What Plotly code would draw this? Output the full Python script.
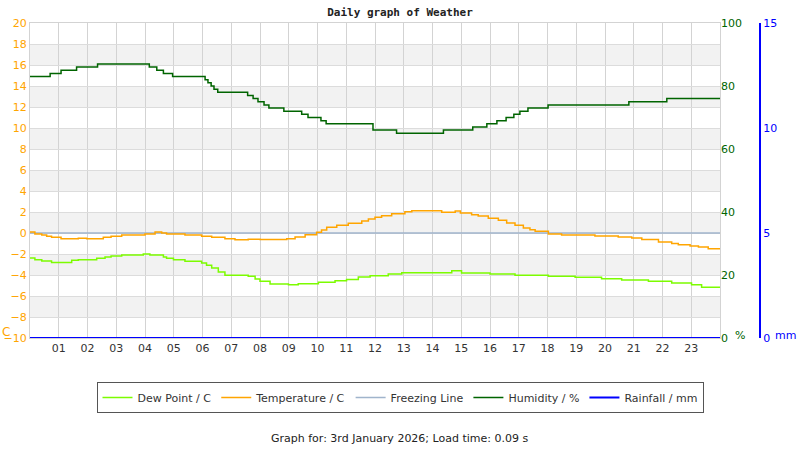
import plotly.graph_objects as go

# hours of the day (0-24) and readings, step-wise as logged
hum_hours = [0, 0.70, 1.08, 1.62, 2.35, 4.15, 4.41, 4.64, 4.96, 6.09, 6.19, 6.30, 6.40,
             6.53, 7.57, 7.76, 7.93, 8.14, 8.31, 8.83, 9.45, 9.67, 10.12, 10.30, 11.93,
             12.75, 14.38, 15.40, 15.89, 16.24, 16.56, 16.83, 17.04, 17.32, 18.02, 20.83,
             22.15, 24]
hum_vals = [83, 84, 85, 86, 87, 86, 85, 84, 83, 82, 81, 80, 79,
            78, 77, 76, 75, 74, 73, 72, 71, 70, 69, 68, 66,
            65, 66, 67, 68, 69, 70, 71, 72, 73, 74, 75,
            76, 76]

temp_hours = [0, 0.17, 0.41, 0.58, 0.75, 1.08, 1.68, 1.97, 2.55, 2.82, 3.19, 4.0, 4.35,
              4.58, 4.75, 5.39, 5.97, 6.32, 6.78, 7.13, 7.59, 8.0, 8.93, 9.22, 9.57,
              9.97, 10.14, 10.32, 10.67, 11.07, 11.54, 11.77, 12.0, 12.23, 12.58, 13.04,
              13.28, 14.32, 14.79, 14.97, 15.36, 15.59, 15.94, 16.29, 16.58, 16.87, 17.16,
              17.39, 17.57, 18.03, 18.49, 19.65, 20.46, 20.93, 21.28, 21.86, 22.32, 22.55,
              22.96, 23.25, 23.59, 24]
temp_vals = [0.1, -0.1, -0.2, -0.3, -0.4, -0.55, -0.5, -0.55, -0.4, -0.3, -0.2, -0.1, 0.1,
             0.0, -0.1, -0.2, -0.3, -0.4, -0.55, -0.65, -0.6, -0.63, -0.54, -0.38, -0.16,
             0.06, 0.29, 0.54, 0.73, 0.92, 1.14, 1.33, 1.49, 1.65, 1.84, 2.03,
             2.13, 1.97, 2.1, 1.9, 1.75, 1.62, 1.4, 1.21, 0.95, 0.73, 0.48,
             0.32, 0.16, -0.1, -0.19, -0.29, -0.38, -0.48, -0.63, -0.86, -1.0, -1.11,
             -1.24, -1.33, -1.49, -1.49]

dew_hours = [0, 0.17, 0.41, 0.75, 1.45, 1.68, 2.32, 2.61, 2.82, 3.19, 3.94, 4.17, 4.64,
             4.75, 4.99, 5.39, 5.97, 6.14, 6.32, 6.55, 6.78, 7.59, 7.83, 8.0, 8.35,
             8.99, 9.33, 10.03, 10.61, 11.01, 11.42, 11.83, 12.46, 12.93, 14.67, 15.01,
             16.0, 16.87, 18.03, 18.96, 19.88, 20.58, 21.51, 22.32, 23.01, 23.36, 24]
dew_vals = [-2.38, -2.54, -2.67, -2.8, -2.6, -2.54, -2.4, -2.29, -2.19, -2.1, -2.0, -2.1, -2.29,
            -2.4, -2.54, -2.7, -2.86, -3.08, -3.33, -3.71, -4.03, -4.13, -4.38, -4.6, -4.86,
            -4.92, -4.83, -4.7, -4.54, -4.44, -4.19, -4.06, -3.9, -3.78, -3.59, -3.8,
            -3.9, -4.03, -4.13, -4.22, -4.35, -4.48, -4.6, -4.76, -4.92, -5.17, -5.17]

rain_hours = [0, 24]
rain_vals = [0, 0]

freeze_hours = [0, 24]
freeze_vals = [0, 0]

hour_ticks = list(range(1, 24))
hour_labels = [f"{h:02d}" for h in hour_ticks]

ORANGE = "#FFA500"
GREEN = "#006400"
BLUE = "#0000FF"
FONT = "DejaVu Sans"

# plot area in pixels: x 30..720, y 23..338; paper spans x 30..765
PW, PH = 735, 315


def px_x(x):
    return (x - 30) / PW


def px_y(y):
    return (338 - y) / PH


fig = go.Figure()
fig.add_trace(go.Scatter(x=dew_hours, y=dew_vals, name="Dew Point / C", mode="lines",
                         line=dict(color="#7CFC00", width=1.5, shape="hv")))
fig.add_trace(go.Scatter(x=freeze_hours, y=freeze_vals, name="Freezing Line", mode="lines",
                         line=dict(color="#A0B4CC", width=1.5), showlegend=False))
fig.add_trace(go.Scatter(x=temp_hours, y=temp_vals, name="Temperature / C", mode="lines",
                         line=dict(color=ORANGE, width=1.5, shape="hv")))
# legend-only entry to keep the original legend order
fig.add_trace(go.Scatter(x=[None], y=[None], name="Freezing Line", mode="lines",
                         line=dict(color="#A0B4CC", width=1.5)))
fig.add_trace(go.Scatter(x=hum_hours, y=hum_vals, name="Humidity / %", mode="lines",
                         yaxis="y2", line=dict(color=GREEN, width=1.5, shape="hv")))
fig.add_trace(go.Scatter(x=rain_hours, y=rain_vals, name="Rainfall / mm", mode="lines",
                         yaxis="y3", line=dict(color=BLUE, width=2)))

# alternating grey bands
shapes = []
for lo in range(-8, 20, 4):
    shapes.append(dict(type="rect", xref="x", yref="y", x0=0, x1=24, y0=lo, y1=lo + 2,
                       fillcolor="#F2F2F2", line=dict(width=0), layer="below"))

xdom = 690 / PW
fig.update_layout(
    width=800, height=450,
    margin=dict(l=30, r=35, t=23, b=112, autoexpand=False),
    paper_bgcolor="white", plot_bgcolor="white",
    font=dict(family=FONT, size=11, color="#333333"),
    title=dict(text="<b>Daily graph of Weather</b>", x=0.5, xanchor="center", xref="container",
               yref="container", y=1 - 12 / 450, yanchor="middle",
               font=dict(family="DejaVu Sans Mono", size=11, color="#222222")),
    shapes=shapes,
    showlegend=True,
    legend=dict(orientation="h", x=px_x(400), xanchor="center", y=px_y(382), yanchor="top",
                bordercolor="#555555", borderwidth=1, bgcolor="white",
                font=dict(family=FONT, size=11, color="#333333"),
                itemwidth=30, tracegroupgap=0),
    xaxis=dict(domain=[0, xdom], range=[0, 24], tickvals=hour_ticks, ticktext=hour_labels,
               showgrid=True, gridcolor="#D3D3D3", gridwidth=1, zeroline=False,
               showline=True, linecolor="#D3D3D3", mirror=True, ticks="", automargin=False,
               tickfont=dict(family=FONT, size=11, color="#333333")),
    yaxis=dict(range=[-10, 20], dtick=2, tick0=-10, showgrid=True, gridcolor="#DCDCDC",
               zeroline=False, showline=True, linecolor="#D3D3D3", mirror=True, ticks="",
               automargin=False, tickfont=dict(family=FONT, size=11, color=ORANGE)),
    yaxis2=dict(range=[0, 100], dtick=20, overlaying="y", side="right", anchor="x",
                showgrid=False, zeroline=False, ticks="", automargin=False,
                tickfont=dict(family=FONT, size=11, color=GREEN)),
    yaxis3=dict(range=[0, 15], dtick=5, overlaying="y", side="right", anchor="free",
                position=px_x(760), showgrid=False, zeroline=False, showline=True,
                linecolor=BLUE, linewidth=2, ticks="", automargin=False,
                tickfont=dict(family=FONT, size=11, color=BLUE)),
)

fig.add_annotation(text="C", xref="paper", yref="paper", x=px_x(6), y=px_y(332),
                   showarrow=False, xanchor="center", yanchor="middle",
                   font=dict(family=FONT, size=12, color=ORANGE))
fig.add_annotation(text="%", xref="paper", yref="paper", x=px_x(740), y=px_y(335),
                   showarrow=False, xanchor="center", yanchor="middle",
                   font=dict(family=FONT, size=11, color=GREEN))
fig.add_annotation(text="mm", xref="paper", yref="paper", x=px_x(786), y=px_y(335),
                   showarrow=False, xanchor="center", yanchor="middle",
                   font=dict(family=FONT, size=11, color=BLUE))
fig.add_annotation(text="Graph for: 3rd January 2026; Load time: 0.09 s", xref="paper",
                   yref="paper", x=px_x(400), y=px_y(438), showarrow=False,
                   xanchor="center", yanchor="middle",
                   font=dict(family=FONT, size=11, color="#222222"))

# page body has a default 8px margin; drop it so the figure fills the window
fig.write_html("out.html", config={"displayModeBar": False},
               post_script="document.body.style.margin='0';")
